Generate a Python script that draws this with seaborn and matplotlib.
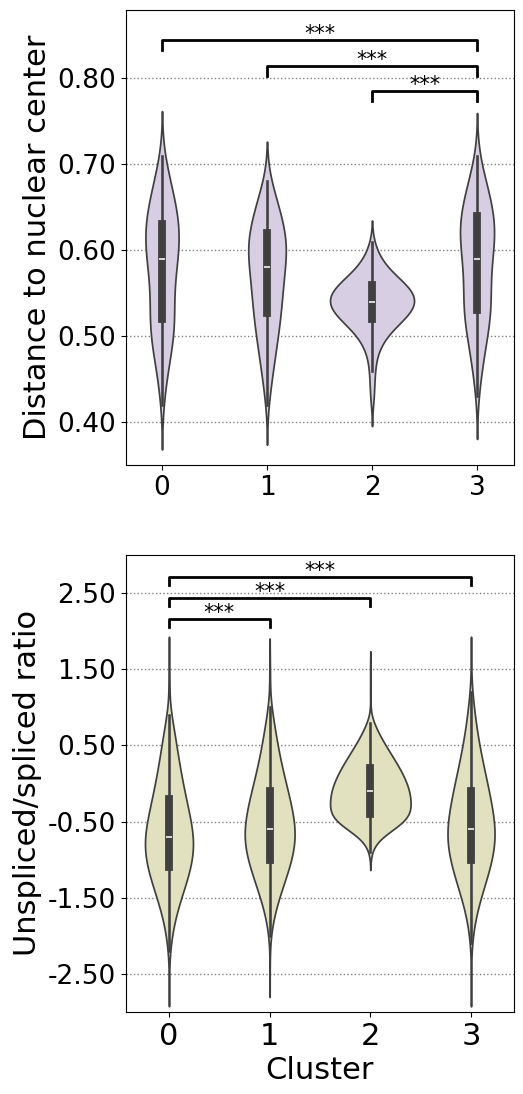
import matplotlib
matplotlib.use("Agg")
import matplotlib.pyplot as plt
import matplotlib.ticker as mticker
import seaborn as sns
import pandas as pd
import numpy as np

clusters = ["0", "1", "2", "3"]

# distance to nuclear center: binned values and counts per cluster
dist_bins = [0.42, 0.43, 0.44, 0.45, 0.46, 0.47, 0.48, 0.49, 0.50, 0.51,
             0.52, 0.53, 0.54, 0.55, 0.56, 0.57, 0.58, 0.59, 0.60, 0.61,
             0.62, 0.63, 0.64, 0.65, 0.66, 0.67, 0.68, 0.69, 0.70, 0.71]
dist_c0 = [5, 7, 10, 13, 17, 22, 28, 34, 39, 42, 42, 39, 35, 34, 36,
           40, 45, 50, 54, 57, 58, 56, 52, 46, 39, 32, 26, 20, 14, 6]
dist_c1 = [5, 7, 11, 15, 18, 22, 26, 30, 34, 38, 41, 44, 47, 48, 49,
           50, 55, 61, 66, 64, 59, 52, 45, 37, 29, 21, 14, 0, 0, 0]
dist_c2 = [1, 2, 2, 2, 3, 3, 5, 8, 13, 20, 30, 38, 42, 40, 32,
           22, 13, 8, 4, 2, 0, 0, 0, 0, 0, 0, 0, 0, 0, 0]
dist_c3 = [0, 5, 8, 11, 14, 18, 22, 27, 32, 38, 43, 46, 47, 44, 40,
           39, 42, 47, 52, 57, 60, 60, 56, 50, 43, 35, 28, 21, 13, 6]

# unspliced/spliced ratio: binned values and counts per cluster
ratio_bins = [-2.5, -2.4, -2.3, -2.2, -2.1, -2.0, -1.9, -1.8, -1.7, -1.6,
              -1.5, -1.4, -1.3, -1.2, -1.1, -1.0, -0.9, -0.8, -0.7, -0.6,
              -0.5, -0.4, -0.3, -0.2, -0.1, 0.0, 0.1, 0.2, 0.3, 0.4,
              0.5, 0.6, 0.7, 0.8, 0.9, 1.0, 1.1, 1.2, 1.3, 1.4, 1.5]
ratio_c0 = [1, 0, 0, 3, 5, 8, 11, 16, 22, 29, 36, 44, 52, 60, 66, 71, 75, 77, 75, 71,
            66, 61, 56, 51, 46, 41, 37, 33, 29, 26, 22, 19, 15, 12, 8, 0, 0, 0, 2, 2, 2]
ratio_c1 = [0, 1, 0, 0, 0, 3, 5, 9, 14, 20, 27, 34, 42, 50, 57, 64, 70, 74, 76, 75,
            72, 68, 63, 58, 53, 47, 41, 36, 31, 27, 23, 19, 15, 12, 9, 6, 0, 0, 0, 2, 2]
ratio_c2 = [0, 0, 0, 0, 0, 0, 0, 0, 0, 0, 0, 0, 0, 0, 0, 0, 3, 10, 30, 70,
            110, 125, 120, 122, 118, 110, 100, 88, 74, 60, 45, 32, 20, 10, 0, 0, 0, 2, 0, 0, 2]
ratio_c3 = [1, 0, 0, 0, 3, 5, 7, 11, 16, 22, 29, 36, 44, 51, 58, 64, 69, 73, 75, 74,
            71, 67, 63, 59, 54, 49, 44, 39, 34, 29, 25, 21, 17, 14, 11, 9, 6, 4, 0, 0, 2]

dist_ticks = [0.40, 0.50, 0.60, 0.70, 0.80]
ratio_ticks = [-2.5, -1.5, -0.5, 0.5, 1.5, 2.5]


def expand(bins, counts_per_cluster):
    frames = []
    for c, counts in zip(clusters, counts_per_cluster):
        frames.append(pd.DataFrame({"Cluster": c, "value": np.repeat(bins, counts)}))
    return pd.concat(frames, ignore_index=True)


def bracket(ax, x1, x2, y, h, text="***"):
    ax.plot([x1, x1, x2, x2], [y - h, y, y, y - h], color="black", lw=2, zorder=5)
    ax.text((x1 + x2) / 2, y, text, ha="center", va="baseline", fontsize=15)


dist_df = expand(dist_bins, [dist_c0, dist_c1, dist_c2, dist_c3])
ratio_df = expand(ratio_bins, [ratio_c0, ratio_c1, ratio_c2, ratio_c3])

fig = plt.figure(figsize=(5.23, 10.94), dpi=100)
ax1 = fig.add_axes([0.2409, 0.5750, 0.7419, 0.4159])
ax2 = fig.add_axes([0.2409, 0.0750, 0.7419, 0.4177])

sns.violinplot(data=dist_df, x="Cluster", y="value", order=clusters, color="#d8cee3",
               linecolor=".25", saturation=1, inner="box", bw_method=0.38, cut=2, ax=ax1)
sns.violinplot(data=ratio_df, x="Cluster", y="value", order=clusters, color="#e2e1bf",
               linecolor=".25", saturation=1, inner="box", bw_method=0.32, cut=2, ax=ax2)

# top panel
ax1.set_xlim(-0.343, 3.352)
ax1.set_ylim(0.3503, 0.8794)
ax1.set_yticks(dist_ticks)
ax1.yaxis.set_major_formatter(mticker.FormatStrFormatter("%.2f"))
ax1.set_ylabel("Distance to nuclear center", fontsize=22)
ax1.set_xlabel("")
bracket(ax1, 0, 3, 0.844, 0.011)
bracket(ax1, 1, 3, 0.814, 0.011)
bracket(ax1, 2, 3, 0.785, 0.012)

# bottom panel
ax2.set_xlim(-0.427, 3.427)
ax2.set_ylim(-3.0, 3.0)
ax2.set_yticks(ratio_ticks)
ax2.yaxis.set_major_formatter(mticker.FormatStrFormatter("%.2f"))
ax2.set_ylabel("Unspliced/spliced ratio", fontsize=22)
ax2.set_xlabel("Cluster", fontsize=22)
bracket(ax2, 0, 3, 2.71, 0.11)
bracket(ax2, 0, 2, 2.44, 0.11)
bracket(ax2, 0, 1, 2.16, 0.11)

for ax in (ax1, ax2):
    ax.yaxis.grid(True, linestyle=":", color="gray", linewidth=1)
    ax.set_axisbelow(True)
    ax.tick_params(axis="both", labelsize=19)
    for s in ax.spines.values():
        s.set_color("black")
ax2.tick_params(axis="x", labelsize=22)

fig.savefig("out.png", dpi=100)
